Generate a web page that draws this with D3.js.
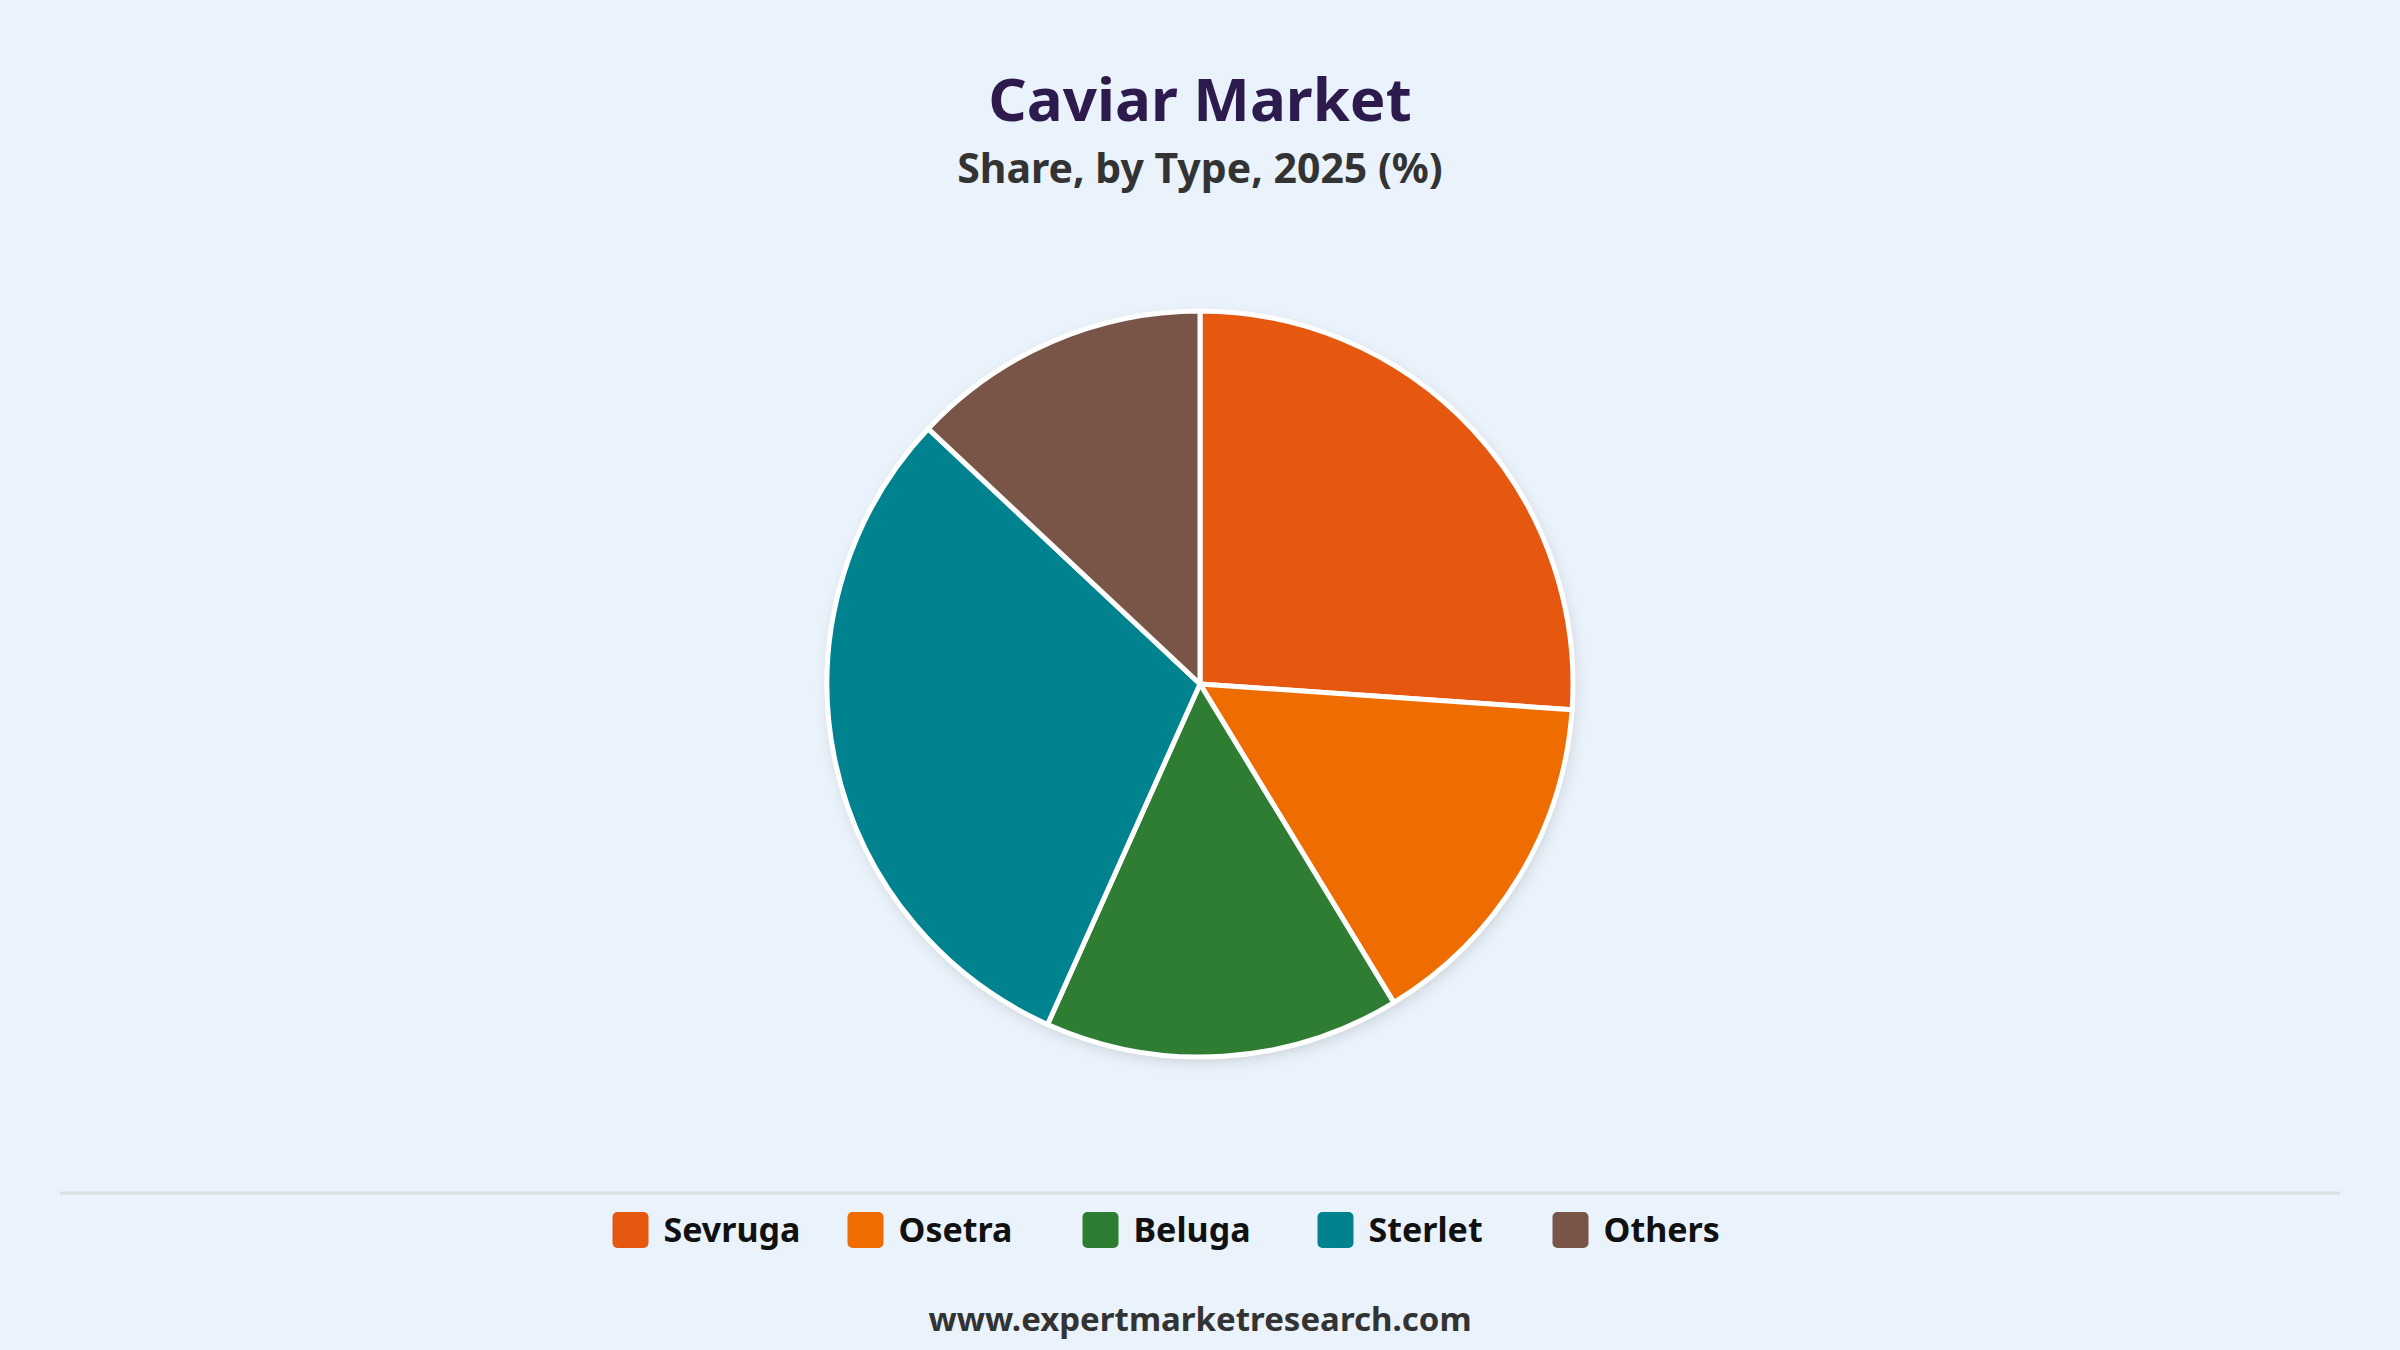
<!DOCTYPE html>
<html>
<head>
<meta charset="utf-8">
<script src="https://cdn.jsdelivr.net/npm/d3@7"></script>
<style>
  html, body { margin: 0; padding: 0; background: #EAF2FB; }
  svg { display: block; }
  text { font-family: "Noto Sans", "Open Sans", sans-serif; }
</style>
</head>
<body>
<svg id="chart" width="2400" height="1350"></svg>
<script>
const categories = ["Sevruga", "Osetra", "Beluga", "Sterlet", "Others"];
const shares = [26.1, 15.2, 15.4, 30.3, 13.0];
const colors = ["#E65710", "#EF6C00", "#2E7D32", "#00838F", "#795548"];
const titleText = "Caviar Market";
const subtitleText = "Share, by Type, 2025 (%)";
const footerText = "www.expertmarketresearch.com";

const W = 2400, H = 1350;
const svg = d3.select("#chart");

svg.append("rect").attr("width", W).attr("height", H).attr("fill", "#EAF2FB");

const defs = svg.append("defs");
const f = defs.append("filter").attr("id", "shadow")
  .attr("x", "-20%").attr("y", "-20%").attr("width", "140%").attr("height", "140%");
f.append("feDropShadow").attr("dx", 2).attr("dy", 5).attr("stdDeviation", 7)
  .attr("flood-color", "#000").attr("flood-opacity", 0.14);

svg.append("text").attr("x", W / 2).attr("y", 121)
  .attr("text-anchor", "middle").attr("font-size", 60).attr("font-weight", 700)
  .attr("fill", "#2D1B4E").text(titleText);

svg.append("text").attr("x", W / 2).attr("y", 183)
  .attr("text-anchor", "middle").attr("font-size", 41).attr("font-weight", 700)
  .attr("fill", "#333333").text(subtitleText);

const cx = 1200, cy = 684, R = 373;
const color = d3.scaleOrdinal().domain(categories).range(colors);
const pie = d3.pie().sort(null).value(d => d.v).startAngle(0).endAngle(2 * Math.PI);
const arc = d3.arc().innerRadius(0).outerRadius(R);
const data = categories.map((c, i) => ({ c, v: shares[i] }));

const g = svg.append("g").attr("transform", `translate(${cx},${cy})`);
g.append("circle").attr("r", R).attr("fill", "#fff").attr("filter", "url(#shadow)");
g.selectAll("path").data(pie(data)).join("path")
  .attr("d", arc)
  .attr("fill", d => color(d.data.c))
  .attr("stroke", "#ffffff").attr("stroke-width", 5).attr("stroke-linejoin", "round");

svg.append("line").attr("x1", 60).attr("x2", 2340).attr("y1", 1193).attr("y2", 1193)
  .attr("stroke", "#DADDE2").attr("stroke-width", 3);

const itemW = 235;
const legendX0 = W / 2 - itemW * categories.length / 2;
const legend = svg.append("g");
const items = legend.selectAll("g").data(categories).join("g")
  .attr("transform", (d, i) => `translate(${legendX0 + i * itemW},1212)`);
items.append("rect").attr("width", 36).attr("height", 36).attr("rx", 5)
  .attr("fill", d => color(d));
items.append("text").attr("x", 51).attr("y", 30)
  .attr("font-size", 34).attr("font-weight", 700).attr("fill", "#111111")
  .text(d => d);

svg.append("text").attr("x", W / 2).attr("y", 1331)
  .attr("text-anchor", "middle").attr("font-size", 33).attr("font-weight", 700)
  .attr("fill", "#333333").text(footerText);
</script>
</body>
</html>
